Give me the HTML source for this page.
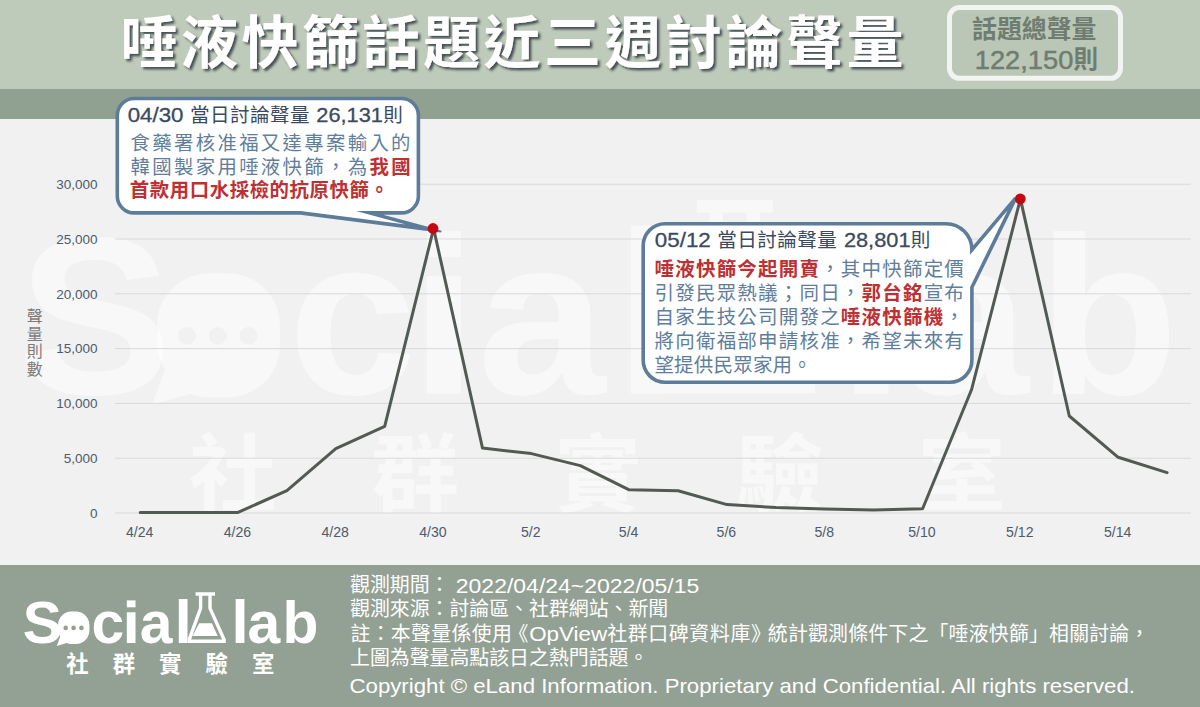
<!DOCTYPE html>
<html lang="zh-Hant"><head><meta charset="utf-8"><title>唾液快篩話題近三週討論聲量</title>
<style>
html,body{margin:0;padding:0;background:#f1f1f1}
body{position:relative;width:1200px;height:707px;overflow:hidden;font-family:"Liberation Sans",sans-serif}
svg{display:block}
svg text{font-family:"Liberation Sans","Noto Sans CJK TC",sans-serif}
.t{position:absolute;margin:0;padding:0;color:transparent;font-weight:normal;line-height:1.2;white-space:nowrap;overflow:hidden;pointer-events:none}
</style></head><body>
<svg width="1200" height="707" viewBox="0 0 1200 707">
<rect width="1200" height="707" fill="#f1f1f1"/><rect width="1200" height="89" fill="#bfcbba"/><rect y="89" width="1200" height="30" fill="#90a091"/><rect y="565" width="1200" height="142" fill="#93a194"/><defs><g id="logo"><text x="22.7" y="643" font-size="58.8" font-weight="bold">S</text><text x="91.56" y="643" font-size="58.8" font-weight="bold">c</text><text x="139.73" y="643" font-size="58.8" font-weight="bold">a</text><text x="247.53" y="643" font-size="58.8" font-weight="bold">a</text><text x="282.41" y="643" font-size="58.8" font-weight="bold">b</text><rect x="126.800" y="600.400" width="8.700" height="6.900"/><rect x="126.800" y="612.300" width="8.700" height="30.700"/><rect x="178.800" y="599" width="8.700" height="44"/><rect x="235.700" y="599" width="8.700" height="44"/><path fill-rule="evenodd" d="M71.600 611.500h4.300c7.500 0 13.500 6 13.500 13.500v5.500c0 7.500-6 13.500-13.500 13.500h-4.300c-1.800 0-3.500-.300-5-.900l-9.800 2.800 3.400-9.300c-1.300-1.900-2.100-4.100-2.100-6.600v-5c0-7.500 6-13.500 13.500-13.500zM63.400 627.900a2.300 2.300 0 1 0 4.600 0a2.300 2.300 0 1 0 -4.600 0zM71.300 627.900a2.300 2.300 0 1 0 4.600 0a2.300 2.300 0 1 0 -4.600 0zM79.100 627.900a2.300 2.300 0 1 0 4.600 0a2.300 2.300 0 1 0 -4.600 0z"/><path fill-rule="evenodd" d="M195.600 592.300h19.400v3.400h-3.300v12.300l14.100 31.300v3.700h-38.300v-3.700l11.400-31.300v-12.300h-3.300zM202.300 595.700v12.900l-11.200 31h31.100l-13.900-31v-12.900z"/><path d="M199.200 623.300h12.700l5.800 12.700h-25.100z"/><text x="66.2 112.65 159.1 205.55 252" y="672.2" font-size="22.4" font-weight="bold">社群實驗室</text></g></defs><use href="#logo" transform="translate(-71 -2062.700) scale(3.925 3.82)" fill="#fff" fill-opacity=".5"/><rect x="115" y="512.5" width="1076" height="1" fill="#d9d9d9"/><text x="97.5" y="517.7" font-size="13.5" fill="#4d5b6e" text-anchor="end">0</text><rect x="115" y="457.7" width="1076" height="1" fill="#d9d9d9"/><text x="97.5" y="462.9" font-size="13.5" fill="#4d5b6e" text-anchor="end">5,000</text><rect x="115" y="402.9" width="1076" height="1" fill="#d9d9d9"/><text x="97.5" y="408.1" font-size="13.5" fill="#4d5b6e" text-anchor="end">10,000</text><rect x="115" y="348.1" width="1076" height="1" fill="#d9d9d9"/><text x="97.5" y="353.3" font-size="13.5" fill="#4d5b6e" text-anchor="end">15,000</text><rect x="115" y="293.3" width="1076" height="1" fill="#d9d9d9"/><text x="97.5" y="298.5" font-size="13.5" fill="#4d5b6e" text-anchor="end">20,000</text><rect x="115" y="238.5" width="1076" height="1" fill="#d9d9d9"/><text x="97.5" y="243.7" font-size="13.5" fill="#4d5b6e" text-anchor="end">25,000</text><rect x="115" y="183.7" width="1076" height="1" fill="#d9d9d9"/><text x="97.5" y="188.9" font-size="13.5" fill="#4d5b6e" text-anchor="end">30,000</text><text x="139.6" y="537.4" font-size="14.1" fill="#4d5b6e" text-anchor="middle">4/24</text><text x="237.4" y="537.4" font-size="14.1" fill="#4d5b6e" text-anchor="middle">4/26</text><text x="335.2" y="537.4" font-size="14.1" fill="#4d5b6e" text-anchor="middle">4/28</text><text x="433" y="537.4" font-size="14.1" fill="#4d5b6e" text-anchor="middle">4/30</text><text x="530.8" y="537.4" font-size="14.1" fill="#4d5b6e" text-anchor="middle">5/2</text><text x="628.6" y="537.4" font-size="14.1" fill="#4d5b6e" text-anchor="middle">5/4</text><text x="726.4" y="537.4" font-size="14.1" fill="#4d5b6e" text-anchor="middle">5/6</text><text x="824.2" y="537.4" font-size="14.1" fill="#4d5b6e" text-anchor="middle">5/8</text><text x="922" y="537.4" font-size="14.1" fill="#4d5b6e" text-anchor="middle">5/10</text><text x="1019.8" y="537.4" font-size="14.1" fill="#4d5b6e" text-anchor="middle">5/12</text><text x="1117.6" y="537.4" font-size="14.1" fill="#4d5b6e" text-anchor="middle">5/14</text><polyline points="140.2,512.4 189.1,512.4 238,512.4 286.9,490.6 335.8,448.6 384.7,426.4 433.6,228.5 482.5,448.1 531.4,453.6 580.3,465.6 629.2,489.8 678.1,490.8 727,504.6 775.9,507.6 824.8,508.9 873.7,510 922.6,508.8 971.5,389.8 1020.4,198.9 1069.3,416 1118.2,457.3 1167.1,472.6" fill="none" stroke="#525a53" stroke-width="3" stroke-linejoin="round" stroke-linecap="round"/><text x="26.8" y="322" font-size="16" fill="#7b7b7b">聲</text><text x="26.8" y="339.7" font-size="16" fill="#7b7b7b">量</text><text x="26.8" y="357.4" font-size="16" fill="#7b7b7b">則</text><text x="26.8" y="375.1" font-size="16" fill="#7b7b7b">數</text><path d="M134.3 98.5H401.4A17 17 0 0 1 418.4 115.5V195.9A17 17 0 0 1 401.4 212.9H369.6L431.1 229.6L300.5 212.9H134.3A17 17 0 0 1 117.3 195.9V115.5A17 17 0 0 1 134.3 98.5Z" fill="#fff" stroke="#5d7c99" stroke-width="3.6" stroke-linejoin="miter" stroke-miterlimit="8.5"/><polygon points="431.5,227.800 441.600,230.700 441.200,232.600 430.900,231.400" fill="#5d7c99"/><path d="M665.2 223.7H945.9A26 26 0 0 1 971.9 249.7V249.8L1015.6 198.1L971.9 287.3V360.3A22 22 0 0 1 949.9 382.3H665.2A22 22 0 0 1 643.2 360.3V245.7A22 22 0 0 1 665.2 223.7Z" fill="#fff" stroke="#5d7c99" stroke-width="3.6" stroke-linejoin="miter" stroke-miterlimit="4"/><circle cx="433" cy="228.500" r="5.400" fill="#c40812"/><circle cx="1020.300" cy="198.900" r="5.400" fill="#c40812"/><text x="127.7" y="122.4" font-size="20.2" fill="#3b4a60" textLength="55.8" lengthAdjust="spacingAndGlyphs" stroke="#3b4a60" stroke-width=".3">04/30</text><text x="190" y="122.4" font-size="19.6" fill="#3b4a60" letter-spacing="0.4">當日討論聲量</text><text x="316.3" y="122.4" font-size="20.2" fill="#3b4a60" textLength="66.6" lengthAdjust="spacingAndGlyphs" stroke="#3b4a60" stroke-width=".3">26,131</text><text x="383.3" y="122.4" font-size="19.6" fill="#3b4a60">則</text><text x="130.6" y="150.1" font-size="19.4" fill="#5f7e9b" letter-spacing="2.32">食藥署核准福又達專案輸入的</text><text x="130.6" y="174.1" font-size="19.4" fill="#5f7e9b" letter-spacing="2.32">韓國製家用唾液快篩，為<tspan fill="#bd3033" font-weight="bold">我國</tspan></text><text x="129.7" y="197.4" font-size="19.4" fill="#bd3033" font-weight="bold" letter-spacing="0.6">首款用口水採檢的抗原快篩。</text><text x="654.8" y="246.6" font-size="20.2" fill="#3b4a60" textLength="56" lengthAdjust="spacingAndGlyphs" stroke="#3b4a60" stroke-width=".3">05/12</text><text x="717.3" y="246.6" font-size="19.6" fill="#3b4a60" letter-spacing="0.4">當日討論聲量</text><text x="843.9" y="246.6" font-size="20.2" fill="#3b4a60" textLength="66.6" lengthAdjust="spacingAndGlyphs" stroke="#3b4a60" stroke-width=".3">28,801</text><text x="910.8" y="246.6" font-size="19.6" fill="#3b4a60">則</text><text x="654.55" y="275.8" font-size="19.5" fill="#5f7e9b" letter-spacing="1.2"><tspan fill="#bd3033" font-weight="bold">唾液快篩今起開賣</tspan>，其中快篩定價</text><text x="654.55" y="299.8" font-size="19.5" fill="#5f7e9b" letter-spacing="1.2">引發民眾熱議；同日，<tspan fill="#bd3033" font-weight="bold">郭台銘</tspan>宣布</text><text x="654.55" y="323.8" font-size="19.5" fill="#5f7e9b" letter-spacing="1.2">自家生技公司開發之<tspan fill="#bd3033" font-weight="bold">唾液快篩機</tspan>，</text><text x="654.55" y="347.9" font-size="19.5" fill="#5f7e9b" letter-spacing="1.2">將向衛福部申請核准，希望未來有</text><text x="654.4" y="372" font-size="19.5" fill="#5f7e9b" letter-spacing="0.2">望提供民眾家用。</text><defs><filter id="sh" x="-2%" y="-20%" width="104%" height="150%"><feDropShadow dx="2.4" dy="2.4" stdDeviation="1.3" flood-color="#25323a" flood-opacity=".8"/></filter></defs><g filter="url(#sh)"><text x="120.55" y="63.3" font-size="57" font-weight="bold" fill="#fff" letter-spacing="3.5">唾液快篩話題近三週討論聲量</text></g><rect x="949.500" y="7.500" width="171" height="70.800" rx="10" fill="#bac7b6" stroke="#f2f4f1" stroke-width="5"/><text x="972" y="38.4" font-size="24.9" font-weight="bold" fill="#6f7d71">話題總聲量</text><text x="974.8" y="68.5" font-size="26" fill="#6f7d71" textLength="98.5" lengthAdjust="spacingAndGlyphs" stroke="#6f7d71" stroke-width=".5">122,150</text><text x="1073.3" y="68" font-size="24.9" font-weight="bold" fill="#6f7d71">則</text><use href="#logo" fill="#fff"/><text x="350" y="592.3" font-size="19.9" fill="#fff">觀測期間：</text><text x="455.8" y="592.6" font-size="19.6" fill="#fff" textLength="243.5" lengthAdjust="spacingAndGlyphs">2022/04/24~2022/05/15</text><text x="350" y="616.45" font-size="19.9" fill="#fff">觀測來源：討論區、社群網站、新聞</text><text x="350.4" y="640.6" font-size="19.9" fill="#fff" letter-spacing="0.35">註：本聲量係使用</text><text x="508.6" y="640.6" font-size="19.9" fill="#fff">《</text><text x="529.2" y="640.9" font-size="19.6" fill="#fff" textLength="78" lengthAdjust="spacingAndGlyphs">OpView</text><text x="607.2" y="640.6" font-size="19.9" fill="#fff" letter-spacing="0.65">社群口碑資料庫》</text><text x="767.8" y="640.6" font-size="19.9" fill="#fff" letter-spacing="0.2">統計觀測條件下之「唾液快篩」相關討論，</text><text x="350" y="664.75" font-size="19.9" fill="#fff">上圖為聲量高點該日之熱門話題。</text><text x="349.5" y="693.3" font-size="19.8" fill="#fff" textLength="785.5" lengthAdjust="spacingAndGlyphs">Copyright © eLand Information. Proprietary and Confidential. All rights reserved.</text>
</svg>
<h1 class="t" style="left:120px;top:8px;font-size:57px;letter-spacing:3.5px">唾液快篩話題近三週討論聲量</h1><div class="t" style="left:972px;top:14px;font-size:24.9px;letter-spacing:0px">話題總聲量</div><div class="t" style="left:1070px;top:44px;font-size:24.9px;letter-spacing:0px">則</div><div class="t" style="left:27px;top:306px;font-size:16px;letter-spacing:0px;width:16px;white-space:normal;line-height:17.7px">聲量則數</div><div class="t" style="left:190px;top:104px;font-size:19.6px;letter-spacing:0.4px">當日討論聲量</div><div class="t" style="left:383px;top:104px;font-size:19.6px;letter-spacing:0px">則</div><div class="t" style="left:129.5px;top:131px;font-size:18.4px;letter-spacing:3.4px">食藥署核准福又達專案輸入的</div><div class="t" style="left:129.5px;top:155px;font-size:18.4px;letter-spacing:3.4px">韓國製家用唾液快篩，為我國</div><div class="t" style="left:129.5px;top:179px;font-size:18.4px;letter-spacing:1.6px">首款用口水採檢的抗原快篩。</div><div class="t" style="left:717px;top:228px;font-size:19.6px;letter-spacing:0.4px">當日討論聲量</div><div class="t" style="left:911px;top:228px;font-size:19.6px;letter-spacing:0px">則</div><div class="t" style="left:654px;top:257px;font-size:19.5px;letter-spacing:1.2px">唾液快篩今起開賣，其中快篩定價</div><div class="t" style="left:654px;top:281px;font-size:19.5px;letter-spacing:1.2px">引發民眾熱議；同日，郭台銘宣布</div><div class="t" style="left:654px;top:305px;font-size:19.5px;letter-spacing:1.2px">自家生技公司開發之唾液快篩機，</div><div class="t" style="left:654px;top:329px;font-size:19.5px;letter-spacing:1.2px">將向衛福部申請核准，希望未來有</div><div class="t" style="left:654px;top:353px;font-size:19.5px;letter-spacing:0.2px">望提供民眾家用。</div><div class="t" style="left:350px;top:574px;font-size:19.9px;letter-spacing:0px">觀測期間：</div><div class="t" style="left:350px;top:598px;font-size:19.9px;letter-spacing:0px">觀測來源：討論區、社群網站、新聞</div><div class="t" style="left:350px;top:622px;font-size:19.9px;letter-spacing:0.3px">註：本聲量係使用《</div><div class="t" style="left:607px;top:622px;font-size:19.9px;letter-spacing:0.6px">社群口碑資料庫》</div><div class="t" style="left:768px;top:622px;font-size:19.9px;letter-spacing:0.2px">統計觀測條件下之「唾液快篩」相關討論，</div><div class="t" style="left:350px;top:646px;font-size:19.9px;letter-spacing:0px">上圖為聲量高點該日之熱門話題。</div><div class="t" style="left:66px;top:652px;font-size:22.4px;letter-spacing:24px">社群實驗室</div>
</body></html>
